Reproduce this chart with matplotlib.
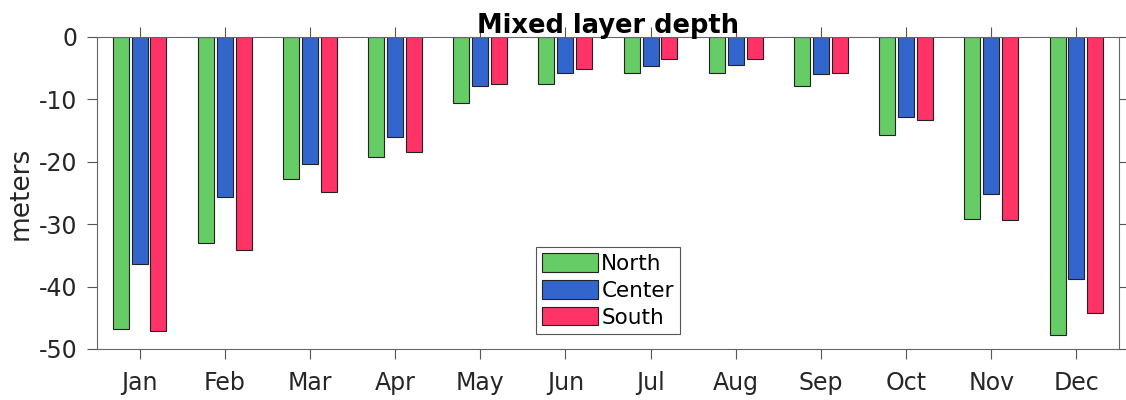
import matplotlib
matplotlib.use("Agg")
import matplotlib.pyplot as plt
import numpy as np

months = ["Jan", "Feb", "Mar", "Apr", "May", "Jun",
          "Jul", "Aug", "Sep", "Oct", "Nov", "Dec"]
north = [-46.8, -33.0, -22.7, -19.3, -10.6, -7.5, -5.8, -5.7, -7.85, -15.75, -29.1, -47.7]
center = [-36.3, -25.6, -20.35, -16.1, -7.85, -5.7, -4.6, -4.5, -6.0, -12.9, -25.2, -38.8]
south = [-47.1, -34.1, -24.8, -18.4, -7.6, -5.2, -3.6, -3.6, -5.7, -13.3, -29.3, -44.3]
series_names = ["North", "Center", "South"]
colors = ["#66cc66", "#3366cc", "#ff3366"]
yticks = [0, -10, -20, -30, -40, -50]

plt.rcParams["font.family"] = ["DejaVu Sans"]
fig = plt.figure(figsize=(11.26, 4.0), dpi=100)
ax = fig.add_axes([0.0861, 0.1275, 0.9077, 0.78])

x = np.arange(1, len(months) + 1)
offset = 0.222
width = 0.188
for i, (vals, name, col) in enumerate(zip([north, center, south], series_names, colors)):
    ax.bar(x + (i - 1) * offset, vals, width=width, color=col,
           edgecolor="#222222", linewidth=0.8, label=name, zorder=2)

ax.set_xlim(0.5, 12.5)
ax.set_ylim(-50, 0)
ax.set_xticks(x)
ax.set_xticklabels(months)
ax.set_yticks(yticks)
ax.set_yticklabels([str(v) for v in yticks])

ax.tick_params(axis="both", direction="out", length=7, width=0.8,
               color="#555555", labelcolor="#262626", labelsize=17)
ax.tick_params(axis="x", top=True, bottom=True, pad=9)
ax.tick_params(axis="y", left=True, right=True, pad=7)
for s in ax.spines.values():
    s.set_color("#666666")
    s.set_linewidth(0.8)

ax.set_ylabel("meters", fontsize=19, color="#262626", labelpad=4)
ax.set_title("Mixed layer depth", fontsize=18.5, fontweight="bold", color="black", pad=3)

leg = ax.legend(loc="lower center", bbox_to_anchor=(0.5, 0.048), borderaxespad=0,
                fontsize=15.5, handlelength=2.6, handleheight=0.95,
                handletextpad=0.15, labelspacing=0.28, borderpad=0.3,
                fancybox=False, framealpha=1, edgecolor="#555555")
leg.get_frame().set_linewidth(0.8)

fig.savefig("out.png", dpi=100)
